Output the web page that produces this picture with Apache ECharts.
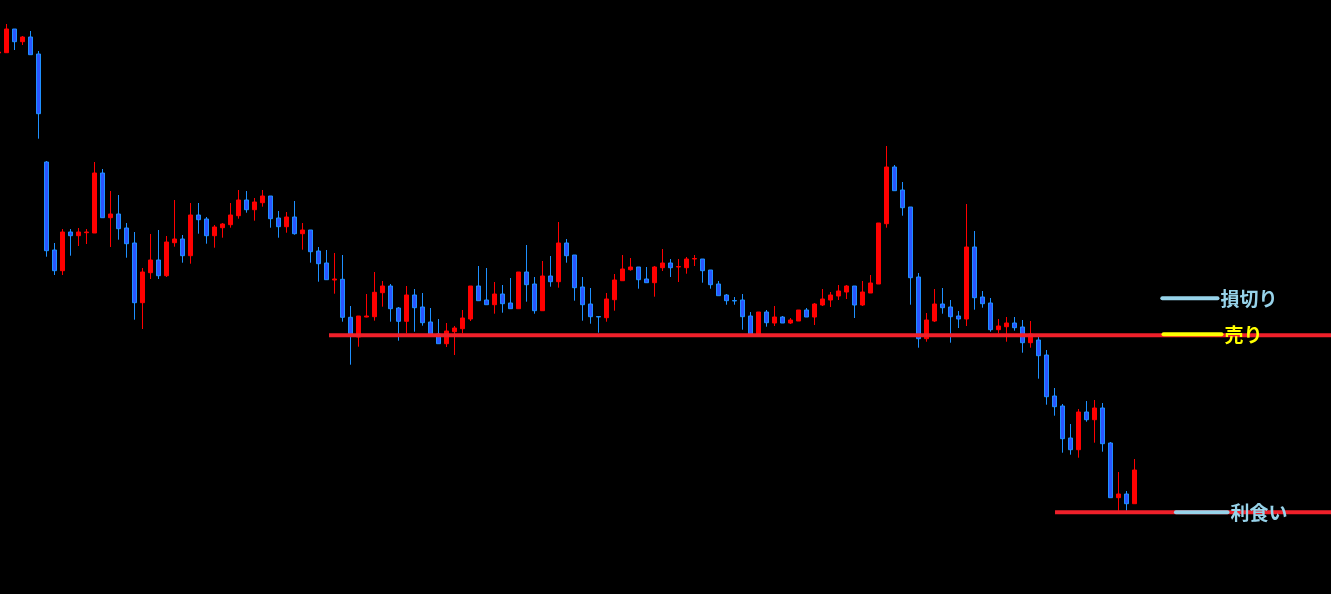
<!DOCTYPE html>
<html>
<head>
<meta charset="utf-8">
<script src="https://cdn.jsdelivr.net/npm/echarts@6.0.0/dist/echarts.min.js"></script>
<style>
html,body{margin:0;padding:0;background:#000;}
#chart{width:1331px;height:594px;}
</style>
</head>
<body>
<div id="chart"></div>
<script>
// candle index of the first bar (partly off the left edge)
const firstIndex = -1;

// OHLC values (price points), one entry per bar, bars -1 .. 141
const opens = [
  547, 547.3, 571, 558.3, 563, 546, 438, 350, 329.3, 368,
  364.3, 367.3, 367, 427, 382.3, 386, 372, 357, 297.3, 327.3,
  340, 324.3, 357.3, 361, 344.3, 385, 381, 364.3, 372.3, 375.3,
  384.3, 400, 390.3, 397.3, 404, 382, 373.3, 383, 366.3, 370,
  349, 337, 320, 320.7, 282.7, 263, 283, 283.3, 307.3, 314,
  292, 278.7, 305, 293, 278, 266, 256.3, 268.3, 271.3, 281,
  314, 300, 295.3, 306, 297, 291.3, 328, 316, 289.3, 324,
  318.3, 357, 345, 313, 296, 283.5, 282.3, 300.3, 319.3, 330.3,
  333, 321, 317.3, 332.3, 337, 333, 332.3, 341, 341, 330,
  316, 305, 299.5, 300, 284, 266, 288, 277, 283, 277,
  279, 290, 283, 295, 300, 304, 308, 314, 295, 307,
  316, 376.3, 433, 410, 393, 323, 261.3, 279, 296, 293,
  284, 281, 353, 303, 297, 270.3, 273.3, 277, 273, 257.3,
  260, 245, 204, 194, 162, 150.3, 188, 180.3, 192, 157,
  102.3, 106, 96.3
];
const closes = [
  548, 571, 558.3, 563, 545.3, 486.3, 349.3, 329.3, 368, 364.3,
  368, 368, 427, 382.3, 386, 371.3, 356.3, 297.3, 328, 340,
  324.3, 358, 361, 344.3, 385, 380.3, 364.3, 373, 376, 385,
  400, 390.3, 398, 404, 381.3, 373.3, 383, 366.3, 370, 348.3,
  336.3, 320.3, 321, 282.7, 266, 284, 284, 307.7, 314, 291.3,
  278.7, 305, 292.3, 277.3, 266, 256.3, 269, 272, 282, 314,
  299.3, 295.3, 306, 296.3, 291.3, 328, 315.3, 289.3, 324, 318.3,
  357, 344.3, 312.3, 295.3, 283.3, 283, 301, 320, 331, 333,
  320.3, 317.3, 333, 337, 332.3, 333.5, 341, 341.5, 329.3, 315.3,
  304.3, 299.3, 299, 283.3, 266, 288, 277.3, 283, 277, 280,
  290, 283, 296, 301, 305, 309, 314, 295, 308, 317,
  377, 433, 409.3, 392.3, 322.3, 261.3, 280, 296, 292.3, 283.3,
  281, 353, 302.3, 296.3, 270.3, 274, 277, 272.3, 257.3, 266,
  244.3, 203.3, 193.3, 161.3, 150.3, 188, 180.3, 192, 156.3, 102.3,
  106, 96.3, 130
];
const lows = [
  547, 547.3, 550, 555, 545.3, 461.3, 343.3, 325, 325, 344.3,
  354, 356, 367, 382.3, 353, 360.3, 342.3, 280.3, 271, 321,
  321, 323, 353.3, 337.3, 336.3, 366.3, 356.3, 352.3, 362.3, 372.3,
  381.3, 387.3, 379.3, 393.3, 372.3, 362.3, 367.3, 365.3, 350.3, 337.3,
  318.3, 320.3, 306.3, 278.3, 235.3, 253.3, 282.7, 279.3, 293.3, 278.3,
  259.3, 266.7, 268.3, 274.3, 263, 256.3, 253, 245, 266.7, 279,
  299.3, 295.3, 286.3, 287.3, 291.3, 291.3, 298.3, 286.3, 289.3, 313.3,
  312.3, 337.3, 299.3, 279.3, 276.3, 267.3, 278.3, 289.3, 319.3, 329.3,
  311.3, 317.3, 303.3, 329, 323, 318, 326.3, 334, 317.3, 311.3,
  304.3, 295.3, 295.3, 270.3, 264, 264, 273.3, 274, 277, 276,
  279, 283, 275, 294, 293, 300, 301, 282, 294, 307,
  316, 372.3, 409.3, 384.3, 295.3, 252.3, 258.3, 278, 286.3, 257.3,
  272, 274, 290.3, 292.3, 268.3, 266.7, 258.3, 269.3, 247.3, 252.3,
  221.3, 195.3, 184.3, 147.3, 145.3, 142.3, 178.3, 157.3, 148.3, 102.3,
  89.3, 89.3, 96.3
];
const highs = [
  548, 576, 571, 564, 569, 549, 439, 357, 371, 371,
  372, 371, 438, 431, 409, 405, 377, 368, 332, 366,
  370, 364, 400, 365, 397, 397, 383, 375, 377, 397,
  410, 409, 402, 410, 404, 389, 388, 399, 377, 370,
  353, 350, 347, 345, 294, 284, 306, 328, 319, 316,
  293, 314, 311, 307, 292, 281, 277, 274, 290, 314,
  334, 332, 318, 315, 322, 328, 355, 323, 339, 344,
  378, 361, 345, 323, 312, 284, 307, 326, 345, 342,
  333, 333, 334, 351, 341, 341, 343, 345, 341, 330,
  319, 306, 303, 306, 288, 288, 290, 294, 284, 282,
  290, 292, 297, 311, 308, 315, 315, 314, 319, 325,
  377, 454, 435, 418, 393, 327, 287, 311, 312, 300,
  289, 396, 369, 309, 302, 281, 283, 283, 280, 279,
  264, 250, 212, 196, 176, 191, 199, 200, 197, 158,
  128, 109, 141
];

// horizontal red lines: start bar index and price level
const redLineStarts = [40.34, 131.09];
const redLineLevels = [264.7, 87.7];

// labelled order markers
const markerNames = ['損切り', '売り', '利食い'];
const markerLevels = [301.7, 265.7, 87.7];
const markerStarts = [144.5, 144.65, 146.2];
const markerEnds = [151.4, 151.9, 152.65];

// visible range of the axes
const xMin = -0.7875, xMax = 165.5875;
const yMin = 6, yMax = 600;

const candleData = opens.map((o, k) => [firstIndex + k, o, closes[k], lows[k], highs[k]]);

const markerColors = ['#97D3EA', '#FFFF00', '#97D3EA'];

const series = [{
  type: 'candlestick',
  data: candleData,
  encode: { x: 0, y: [1, 2, 3, 4] },
  barWidth: 4,
  itemStyle: {
    color: '#FF0000',
    color0: '#2B55FF',
    borderColor: '#FF0000',
    borderColor0: '#1E90FF',
    borderWidth: 1
  },
  z: 2
}];

redLineStarts.forEach((s, k) => {
  series.push({
    type: 'line',
    data: [[s, redLineLevels[k]], [xMax, redLineLevels[k]]],
    symbol: 'none',
    lineStyle: { color: '#F0202A', width: 4 },
    z: 3
  });
});

markerNames.forEach((n, k) => {
  series.push({
    type: 'line',
    name: n,
    data: [[markerStarts[k], markerLevels[k]], [markerEnds[k], markerLevels[k]]],
    symbol: 'none',
    lineStyle: { color: markerColors[k], width: 4, cap: 'round' },
    endLabel: {
      show: true,
      formatter: '{a}',
      distance: 3,
      color: markerColors[k],
      fontSize: 19,
      fontWeight: 'bold',
      fontFamily: 'Noto Sans CJK JP'
    },
    z: 4
  });
});

const chart = echarts.init(document.getElementById('chart'));
chart.setOption({
  backgroundColor: '#000000',
  animation: false,
  grid: { left: 0, right: 0, top: 0, bottom: 0 },
  xAxis: { type: 'value', min: xMin, max: xMax, show: false, splitLine: { show: false } },
  yAxis: { type: 'value', min: yMin, max: yMax, show: false, splitLine: { show: false } },
  series: series
});
</script>
</body>
</html>
